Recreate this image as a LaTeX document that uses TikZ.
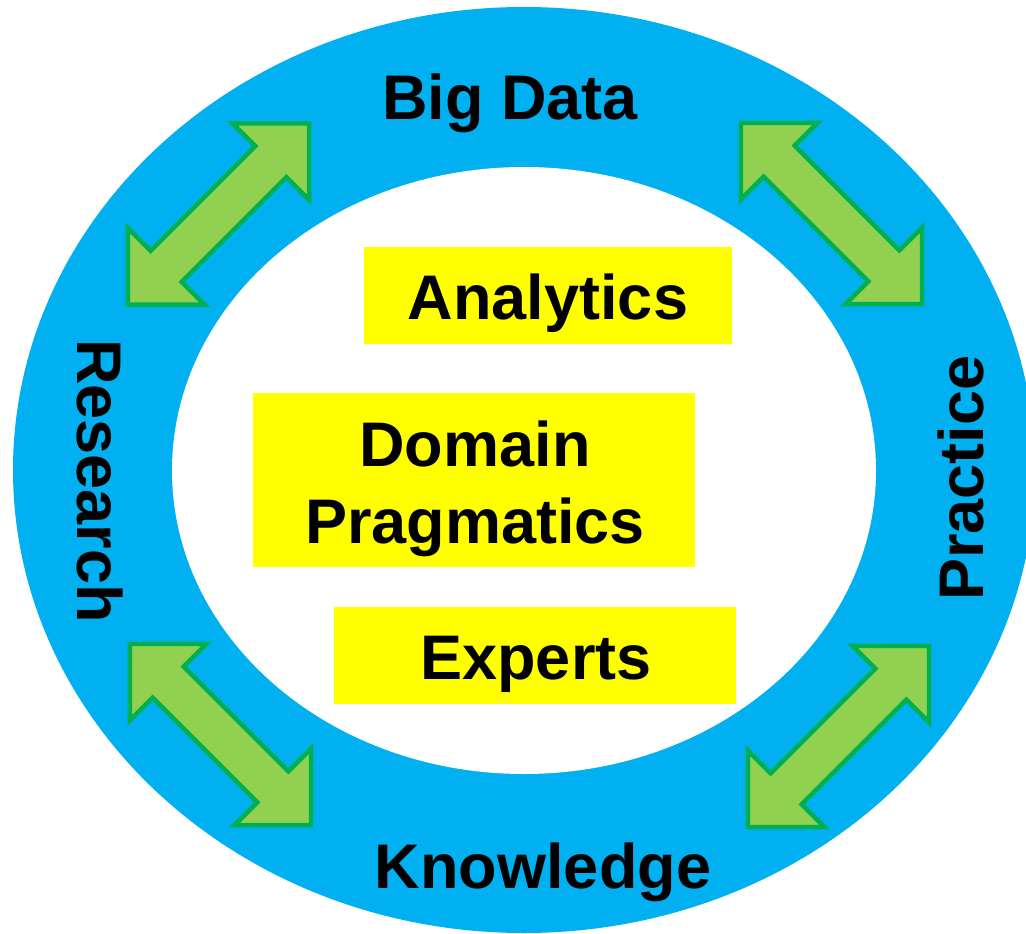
\documentclass[tikz,border=0pt]{standalone}
\usepackage{fontspec}
\setmainfont{Liberation Sans}
\definecolor{ringblue}{HTML}{00B0F0}
\definecolor{arrowfill}{HTML}{92D050}
\definecolor{arrowline}{HTML}{00B050}
\definecolor{boxyellow}{HTML}{FFFF00}
\begin{document}
\begin{tikzpicture}[x=1pt,y=-1pt,
  lbl/.style={font=\bfseries\fontsize{63pt}{76pt}\selectfont, inner sep=0pt, text=black},
  ybox/.style={fill=boxyellow, draw=none, inner sep=0pt},
  arrowstyle/.style={fill=arrowfill, draw=arrowline, line width=4.5pt, line join=miter},
  dblarrow/.pic={
    \draw[arrowstyle] (128,0) -- (74,54) -- (74,22) -- (-74,22) -- (-74,54)
      -- (-128,0) -- (-74,-54) -- (-74,-22) -- (74,-22) -- (74,-54) -- cycle;
  }]
\useasboundingbox (0,0) rectangle (1026,934);

% the ring
\fill[ringblue] (524,470) ellipse [x radius=511pt, y radius=463pt];
\fill[white] (524,470.5) ellipse [x radius=352pt, y radius=303.5pt];

% two-headed arrows on the ring
\pic[rotate=45]  at (218.5,214)   {dblarrow};
\pic[rotate=-45] at (831.5,213.5) {dblarrow};
\pic[rotate=-45] at (220.5,734.5) {dblarrow};
\pic[rotate=45]  at (838.5,736.5) {dblarrow};

% labels on the ring
\node[lbl, anchor=base] (bigdata) at (510,120) {Big Data};
\node[lbl, anchor=base] (knowledge) at (543,888) {Knowledge};
\node[lbl, anchor=base, rotate=-90] (research) at (77,481) {Research};
\node[lbl, anchor=base, rotate=90] (practice) at (983,478) {Practice};

% boxes in the middle
\node[ybox, minimum width=368pt, minimum height=97pt] (analyticsbox) at (548,295.5) {};
\node[lbl, anchor=base] (analytics) at (548,319) {Analytics};

\node[ybox, minimum width=442pt, minimum height=174pt] (domainbox) at (474,480) {};
\node[lbl, anchor=base] (domain) at (475,466) {Domain};
\node[lbl, anchor=base] (pragmatics) at (475,543) {Pragmatics};

\node[ybox, minimum width=402pt, minimum height=97pt] (expertsbox) at (535,655.5) {};
\node[lbl, anchor=base] (experts) at (536,679) {Experts};
\end{tikzpicture}
\end{document}
